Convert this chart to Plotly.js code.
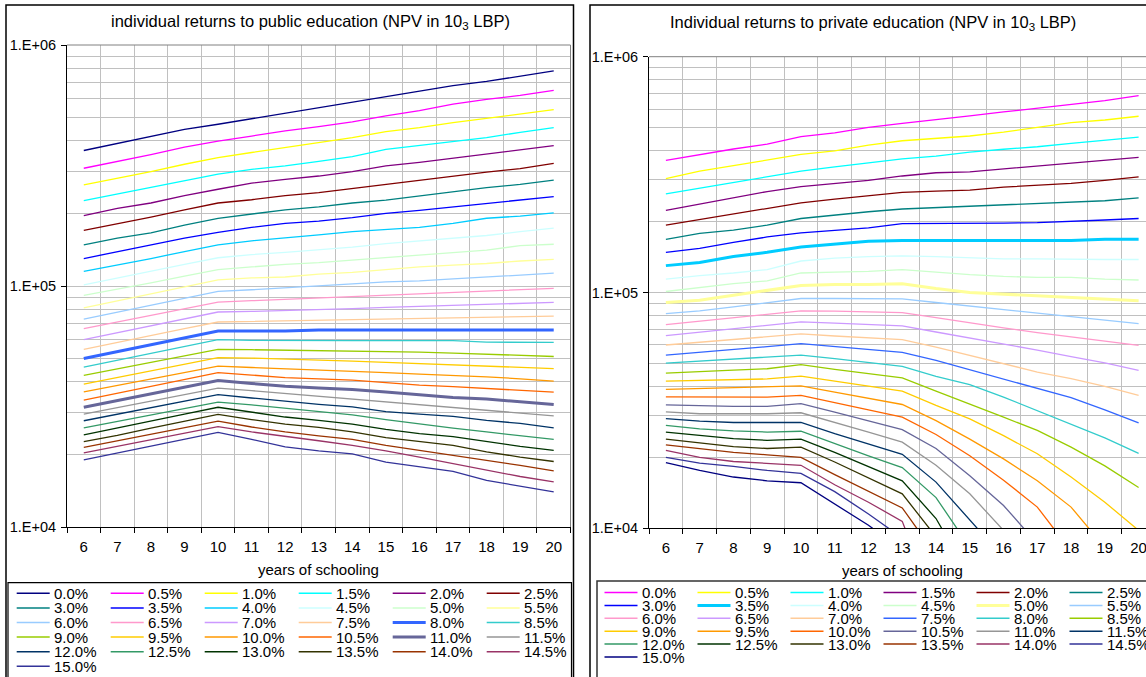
<!DOCTYPE html>
<html>
<head>
<meta charset="utf-8">
<script src="https://cdn.plot.ly/plotly-3.0.1.min.js"></script>
<style>
html,body{margin:0;padding:0;background:#fff;overflow:hidden;}
#chart{width:1160px;height:700px;}
</style>
</head>
<body>
<div id="chart"></div>
<script>
// ---------- categories / labels ----------
const years = ['6','7','8','9','10','11','12','13','14','15','16','17','18','19','20'];
const rates = ['0.0%','0.5%','1.0%','1.5%','2.0%','2.5%','3.0%','3.5%','4.0%','4.5%','5.0%','5.5%',
               '6.0%','6.5%','7.0%','7.5%','8.0%','8.5%','9.0%','9.5%','10.0%','10.5%','11.0%','11.5%',
               '12.0%','12.5%','13.0%','13.5%','14.0%','14.5%','15.0%'];
const yTickVals = [1e4, 1e5, 1e6];
const yTickText = ['1.E+04', '1.E+05', '1.E+06'];

// ---------- public education NPV (10^3 LBP) ----------
const pub00  = [365000,391000,419000,447000,469000,494000,521000,549000,580000,612000,644000,678000,706000,741000,781000];
const pub05  = [308000,328000,351000,377000,399000,419000,440000,458000,480000,508000,534000,568000,595000,618000,648000];
const pub10  = [263000,280000,298000,320000,341000,358000,375000,393000,413000,437000,454000,476000,496000,517000,539000];
const pub15  = [226000,241000,256000,273000,291000,305000,315000,329000,344000,369000,384000,397000,413000,434000,454000];
const pub20  = [196000,210000,221000,237000,252000,267000,277000,286000,298000,315000,326000,339000,353000,367000,382000];
const pub25  = [170000,181000,193000,207000,221000,228000,237000,244000,254000,265000,275000,287000,297000,307000,323000];
const pub30  = [148000,158000,166000,179000,191000,199000,207000,213000,221000,227000,236000,246000,256000,264000,275000];
const pub35  = [130000,139000,148000,158000,167000,175000,182000,186000,192000,200000,206000,213000,221000,227000,235000];
const pub40  = [115000,122000,130000,139000,148000,154000,159000,163000,168000,172000,175000,182000,191000,195000,201000];
const pub45  = [101000,108000,115000,123000,131000,135000,138000,141000,145000,150000,154000,157000,162000,168000,174000];
const pub50  = [91400,96800,103000,110000,117000,120000,123000,125000,128000,131000,134000,137000,141000,147000,149000];
const pub55  = [81100,86700,92600,99000,106000,108000,109000,112000,114000,117000,120000,122000,124000,127000,129000];
const pub60  = [72900,78000,83400,88900,95000,96500,98100,100000,102000,104000,105000,107000,109000,111000,113000];
const pub65  = [66600,70900,75500,80500,85800,86900,88000,89200,90300,92000,93200,94100,95000,96200,97800];
const pub70  = [59900,64000,68500,72900,78000,78500,79000,79700,80500,81600,82400,82900,83700,84700,85500];
const pub75  = [54600,58400,62400,66600,70900,71300,71800,72200,72700,73200,73600,74100,74600,74800,75000];
const pub80  = [50000,53400,57000,61000,65100,65100,65100,65700,65700,65700,65700,65700,65700,65700,65700];
const pub85  = [46100,49300,52500,56200,59900,59500,59300,59300,59300,59300,59300,59300,58500,58300,58300];
const pub90  = [42600,45400,48200,51200,54600,54400,54200,54000,53900,53500,53200,52700,52200,51700,51000];
const pub95  = [39200,41700,44500,47300,50400,50200,49800,49300,48800,48200,47600,47000,46300,45900,45400];
const pub100 = [36400,38700,41200,43800,46500,45900,45400,44800,44200,43700,43100,42600,42000,41200,40300];
const pub105 = [33600,35900,38300,41000,43700,42700,41700,41200,40700,39700,38800,38200,37600,37000,36300];
const pub110 = [31400,33500,35700,37900,40500,39400,38400,37700,37200,36300,35400,34500,34000,33200,32200];
const pub115 = [29400,31300,33300,35500,37700,36800,35800,34800,33900,33100,32100,31300,30500,29700,28900];
const pub120 = [27600,29400,31200,33300,35400,34300,33200,32300,31500,30100,29400,28800,27700,26900,25800];
const pub125 = [25800,27400,29200,31000,33000,32100,31100,30200,29200,27900,26700,25700,24800,23900,23100];
const pub130 = [24100,25800,27600,29400,31400,30000,28600,27700,26700,25400,24400,23700,22600,21600,20800];
const pub135 = [22600,24000,25700,27400,29300,27900,26700,25900,24800,23500,22600,21800,20500,19500,18700];
const pub140 = [21400,22800,24300,25800,27500,26000,24800,23900,23100,21800,20800,19800,18900,18000,17100];
const pub145 = [20300,21600,23100,24500,26100,24800,23700,22800,21800,20700,19500,18300,17200,16200,15400];
const pub150 = [19000,20300,21600,23100,24700,23100,21500,20700,20100,18600,17800,17000,15600,14800,14000];

// ---------- private education NPV (10^3 LBP) ----------
const prv00  = [363000,385000,406000,426000,458000,475000,502000,521000,539000,561000,583000,604000,628000,651000,684000];
const prv05  = [304000,327000,345000,364000,385000,399000,422000,440000,450000,461000,479000,502000,525000,539000,559000];
const prv10  = [262000,277000,293000,309000,327000,341000,355000,369000,379000,394000,405000,415000,429000,443000,456000];
const prv15  = [223000,237000,252000,268000,281000,290000,299000,312000,322000,325000,334000,343000,353000,363000,374000];
const prv20  = [193000,204000,215000,227000,240000,249000,258000,266000,269000,272000,280000,285000,290000,299000,309000];
const prv25  = [168000,178000,184000,193000,206000,213000,220000,226000,229000,232000,235000,239000,242000,245000,252000];
const prv30  = [148000,154000,163000,172000,179000,184000,188000,196000,196000,196000,197000,198000,200000,203000,206000];
const prv35  = [130000,134000,142000,148000,156000,160000,165000,166000,166000,166000,166000,166000,166000,168000,168000];
const prv40  = [114000,118000,121000,125000,136000,140000,142000,143000,142000,140000,139000,139000,138000,138000,138000];
const prv45  = [101000,105000,109000,112000,121000,122000,123000,125000,122000,119000,117000,116000,116000,114000,113000];
const prv50  = [90700,92800,97400,102000,107000,108000,108000,109000,104000,100000,98400,96500,94900,93400,92200];
const prv55  = [81400,83500,86900,90400,94300,94300,94300,94000,90700,87500,84700,81700,79100,76300,73800];
const prv60  = [73100,75600,78000,80900,83500,83300,82700,82200,78300,74300,70800,67600,64800,62300,59700];
const prv65  = [65600,67800,70100,72400,75000,74100,73100,72200,68000,64200,60700,57000,53500,50300,46700];
const prv70  = [59900,61500,63400,65000,66700,65400,64400,63100,58700,54100,49900,46000,43100,40000,36600];
const prv75  = [54300,55700,57400,58900,60700,58900,57200,55700,51500,47000,43100,39400,35800,31800,28000];
const prv80  = [50200,51200,52200,53200,54300,52400,50500,48600,44100,40700,36000,31600,27700,24200,20800];
const prv85  = [45500,46300,46900,47500,49400,47200,45200,43400,38200,33700,29600,26000,22100,18400,14900];
const prv90  = [42100,42400,42700,43000,44200,42100,40100,38200,33200,29100,24700,20700,16500,12900,9800];
const prv95  = [38800,39200,39600,39900,40200,37800,35600,33500,28600,23900,19700,15900,12300,8300,null];
const prv100 = [36100,36000,35900,36000,36600,34000,31800,29600,25000,20300,16000,12300,8000,null,null];
const prv105 = [33400,33100,32900,32900,33800,31100,28500,26200,21800,16700,12500,8600,null,null,null];
const prv110 = [31200,30600,30600,30600,30900,28200,25600,23200,18500,14000,9800,null,null,null,null];
const prv115 = [29200,28500,28100,28000,28100,25200,22800,20600,15700,10800,7500,null,null,null,null];
const prv120 = [27300,26400,25900,25600,25800,22800,20300,18100,13500,8300,null,null,null,null,null];
const prv125 = [25600,24700,24000,23600,23900,21000,18300,15900,11000,6200,null,null,null,null,null];
const prv130 = [23900,23000,22200,21800,22100,19100,16400,14000,9200,null,null,null,null,null,null];
const prv135 = [22600,21800,21000,20500,20000,16900,14400,12200,7700,null,null,null,null,null,null];
const prv140 = [21400,20000,19200,18800,18500,15300,12900,10700,4600,null,null,null,null,null,null];
const prv145 = [20000,18900,18300,17600,17100,14300,11500,9100,null,null,null,null,null,null,null];
const prv150 = [19000,17600,16500,15900,15600,12700,10300,8100,null,null,null,null,null,null,null];

const pubSeries = [pub00,pub05,pub10,pub15,pub20,pub25,pub30,pub35,pub40,pub45,pub50,pub55,pub60,pub65,pub70,pub75,
                   pub80,pub85,pub90,pub95,pub100,pub105,pub110,pub115,pub120,pub125,pub130,pub135,pub140,pub145,pub150];
const prvSeries = [prv00,prv05,prv10,prv15,prv20,prv25,prv30,prv35,prv40,prv45,prv50,prv55,prv60,prv65,prv70,prv75,
                   prv80,prv85,prv90,prv95,prv100,prv105,prv110,prv115,prv120,prv125,prv130,prv135,prv140,prv145,prv150];

// ---------- styles ----------
const palette = ['#000080','#FF00FF','#FFFF00','#00FFFF','#800080','#800000','#008080','#0000FF',
                 '#00CCFF','#CCFFFF','#CCFFCC','#FFFF99','#99CCFF','#FF99CC','#CC99FF','#FFCC99',
                 '#3366FF','#33CCCC','#99CC00','#FFCC00','#FF9900','#FF6600','#666699','#969696',
                 '#003366','#339966','#003300','#333300','#993300','#993366','#333399'];
const pubColors = palette.slice();
const prvColors = palette.slice(1).concat([palette[0]]);
const pubThick = [16, 22];
const prvThick = [7, 10];

const W = 1160, H = 700;
const px = x => x / W;
const py = y => 1 - y / H;
const FONT = 'Liberation Sans, Arial, sans-serif';

const L = {x0: 67, x1: 570.5, y0: 45, y1: 527};
const R = {x0: 649, x1: 1155.5, y0: 56.7, y1: 528.3};

const traces = [];
pubSeries.forEach((s, i) => traces.push({
  x: years, y: s, xaxis: 'x', yaxis: 'y', mode: 'lines', name: rates[i],
  line: {color: pubColors[i], width: pubThick.includes(i) ? 3 : 1.3},
  showlegend: false, hoverinfo: 'skip'
}));
prvSeries.forEach((s, i) => traces.push({
  x: years, y: s, xaxis: 'x2', yaxis: 'y2', mode: 'lines', name: rates[i],
  line: {color: prvColors[i], width: prvThick.includes(i) ? 3 : 1.3},
  showlegend: false, hoverinfo: 'skip'
}));

const minorVals = [2e4,3e4,4e4,5e4,6e4,7e4,8e4,9e4,2e5,3e5,4e5,5e5,6e5,7e5,8e5,9e5];

function xAxis(dom, anchor) {
  return {
    domain: dom, anchor: anchor, type: 'category', categoryorder: 'array', categoryarray: years,
    range: [-0.5, 14.5], tickson: 'boundaries', ticks: 'outside', ticklen: 5, tickcolor: '#000',
    showline: true, linecolor: '#000', linewidth: 1, showgrid: true, gridcolor: '#c0c0c0', gridwidth: 1,
    zeroline: false, fixedrange: true, ticklabelstandoff: 6,
    tickfont: {family: FONT, size: 15, color: '#000'}
  };
}
function yAxis(dom, anchor) {
  return {
    domain: dom, anchor: anchor, type: 'log', range: [4, 6],
    tickmode: 'array', tickvals: yTickVals, ticktext: yTickText,
    ticks: 'outside', ticklen: 5, tickcolor: '#000',
    showline: true, linecolor: '#000', linewidth: 1,
    showgrid: true, gridcolor: '#c0c0c0', gridwidth: 1,
    minor: {tickmode: 'array', tickvals: minorVals, showgrid: true, gridcolor: '#c0c0c0', gridwidth: 1, ticks: ''},
    zeroline: false, fixedrange: true, ticklabelstandoff: 2,
    tickfont: {family: FONT, size: 14.5, color: '#000'}
  };
}

const shapes = [];
const annotations = [];
function line(x0, y0, x1, y1, color, width) {
  shapes.push({type: 'line', xref: 'paper', yref: 'paper', x0: px(x0), y0: py(y0), x1: px(x1), y1: py(y1),
               line: {color: color, width: width}, layer: 'above'});
}
function rect(x0, y0, x1, y1, color, width) {
  shapes.push({type: 'rect', xref: 'paper', yref: 'paper', x0: px(x0), y0: py(y0), x1: px(x1), y1: py(y1),
               line: {color: color, width: width}, fillcolor: 'rgba(0,0,0,0)', layer: 'above'});
}
function text(t, x, y, anchor, size) {
  annotations.push({text: t, xref: 'paper', yref: 'paper', x: px(x), y: py(y), xanchor: anchor, yanchor: 'middle',
                    showarrow: false, font: {family: FONT, size: size || 15, color: '#000'}, borderpad: 0});
}

// plot-area borders (top / right, gray)
line(L.x0, L.y0, L.x1, L.y0, '#808080', 1);
line(L.x1, L.y0, L.x1, L.y1, '#808080', 1);
line(R.x0, R.y0, R.x1, R.y0, '#808080', 1);
line(R.x1, R.y0, R.x1, R.y1, '#808080', 1);

// chart frames
rect(6, 5, 573.5, H + 20, '#000', 1.5);
rect(590, 5, W + 20, H + 20, '#000', 1.5);
// legend boxes
rect(8, 582.7, 571.5, H + 20, '#000', 1.2);
rect(597, 581, W + 20, H + 20, '#333', 1.5);

// titles
text('individual returns to public education (NPV in 10<sub>3</sub> LBP)', 310, 22, 'center', 16.5);
text('Individual returns to private education (NPV in 10<sub>3</sub> LBP)', 873, 23, 'center', 16.5);
text('years of schooling', (L.x0 + L.x1) / 2, 569, 'center', 15);
text('years of schooling', (R.x0 + R.x1) / 2, 570.5, 'center', 15);

// legends
rates.forEach((r, i) => {
  const row = Math.floor(i / 6), col = i % 6;
  let x0 = 16.7 + 94 * col, y = 593.3 + 14.6 * row;
  line(x0, y, x0 + 33, y, pubColors[i], pubThick.includes(i) ? 3 : 1.5);
  text(r, x0 + 36, y, 'left', 15);
  x0 = 604.5 + 93 * col; y = 592.5 + 12.9 * row;
  line(x0, y, x0 + 33, y, prvColors[i], prvThick.includes(i) ? 3 : 1.5);
  text(r, x0 + 36, y, 'left', 15);
});

const layout = {
  width: W, height: H, margin: {l: 0, r: 0, t: 0, b: 0},
  paper_bgcolor: '#fff', plot_bgcolor: '#fff', showlegend: false,
  font: {family: FONT, size: 15, color: '#000'},
  xaxis: xAxis([px(L.x0), px(L.x1)], 'y'),
  yaxis: yAxis([py(L.y1), py(L.y0)], 'x'),
  xaxis2: xAxis([px(R.x0), px(R.x1)], 'y2'),
  yaxis2: yAxis([py(R.y1), py(R.y0)], 'x2'),
  shapes: shapes, annotations: annotations
};

Plotly.newPlot('chart', traces, layout, {staticPlot: true, displayModeBar: false});
</script>
</body>
</html>
